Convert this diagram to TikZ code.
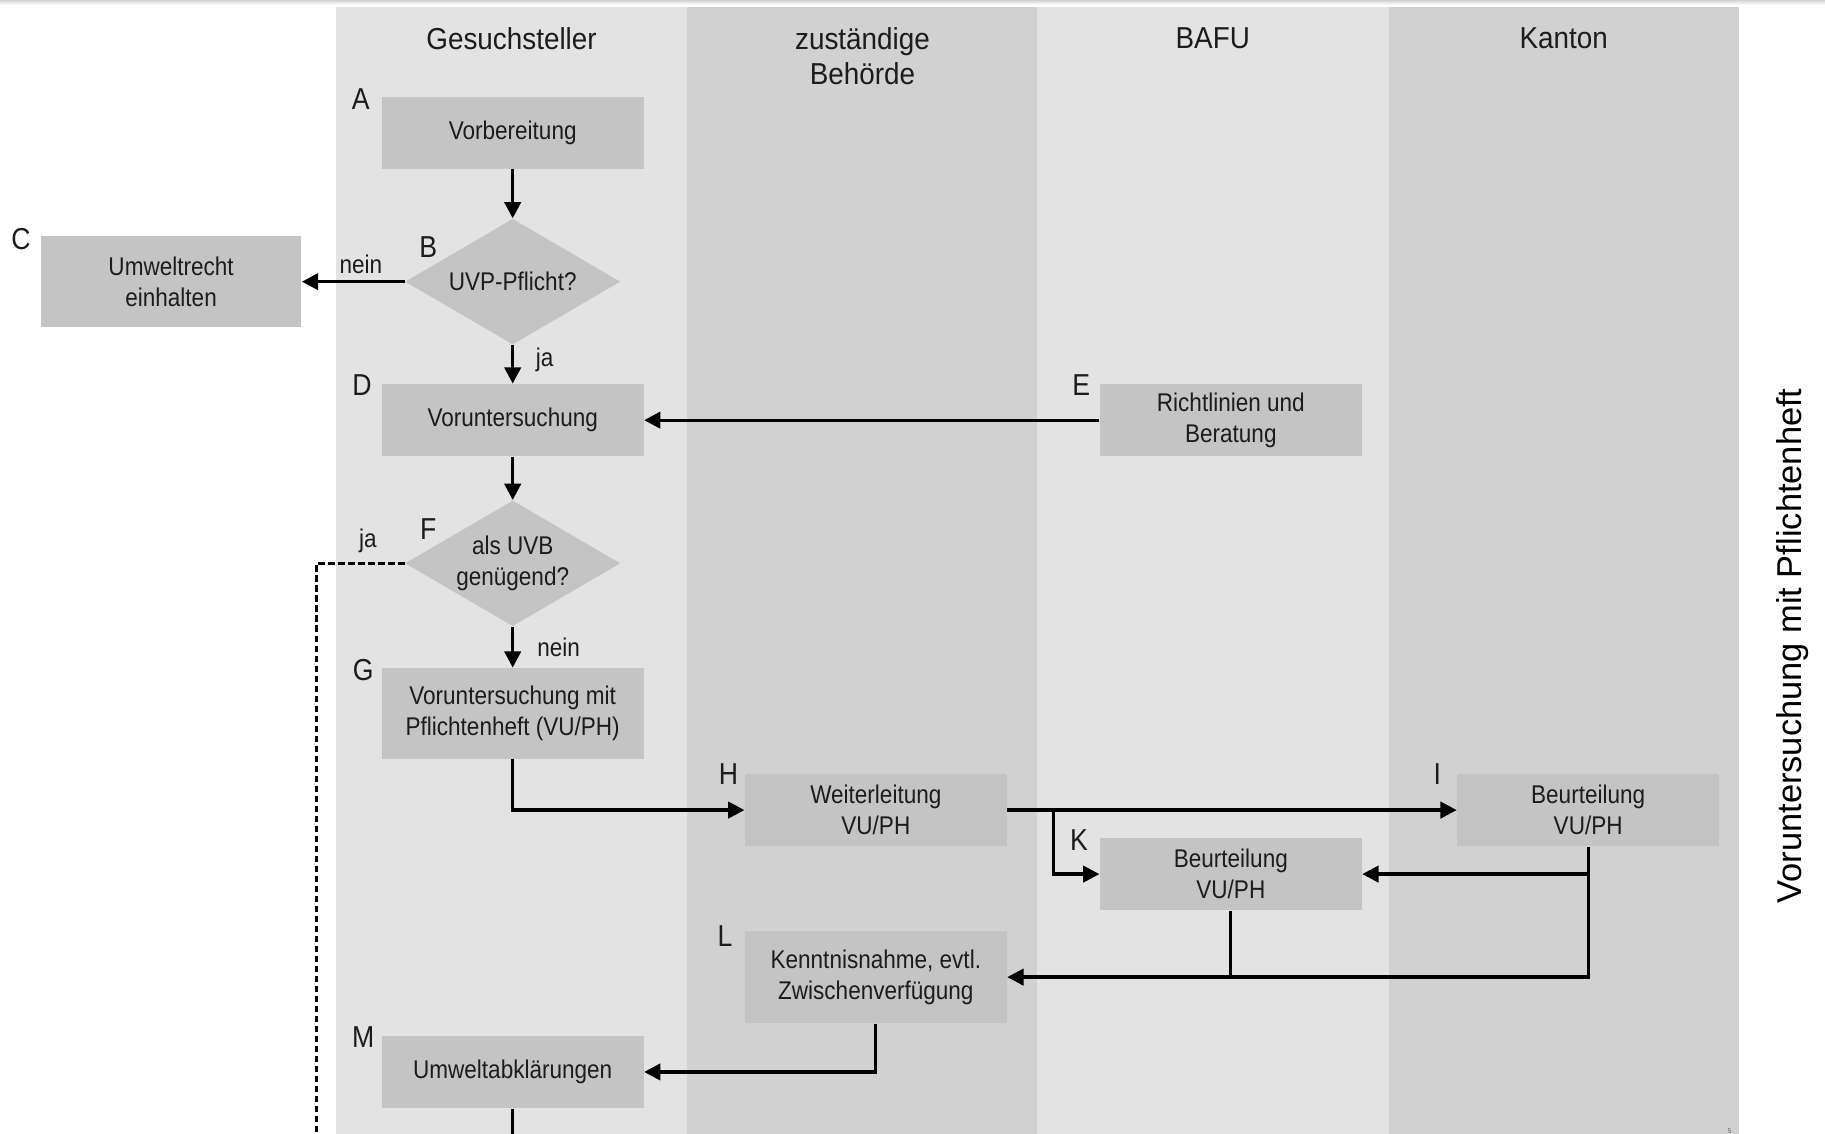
\documentclass[tikz,border=0pt]{standalone}
\usepackage{fontspec}
\setmainfont{Liberation Sans}
\newfontfamily\narrowfont[FakeStretch=0.88]{Liberation Sans}
\newfontfamily\titlefont[FakeStretch=0.92]{Liberation Sans}
\usetikzlibrary{shapes.geometric,arrows.meta}
\definecolor{lanelight}{HTML}{E3E3E3}
\definecolor{lanedark}{HTML}{D1D1D1}
\definecolor{boxgray}{HTML}{C4C4C4}
\definecolor{inkgray}{HTML}{1C1C1C}
\begin{document}
\begin{tikzpicture}[x=0.5pt,y=-0.5pt,
  stepbox/.style={rectangle, fill=boxgray, minimum width=112.5pt, minimum height=31pt,
    inner sep=0pt, align=center, text=inkgray, font=\narrowfont\fontsize{11}{13.5}\selectfont},
  tallbox/.style={stepbox, minimum height=39pt},
  decision/.style={diamond, fill=boxgray, minimum width=92.5pt, minimum height=54pt, inner sep=0pt},
  dectext/.style={align=center, text=inkgray, font=\narrowfont\fontsize{11}{13.5}\selectfont},
  letter/.style={text=inkgray, inner sep=0pt, font=\narrowfont\fontsize{13}{15}\selectfont},
  lanetitle/.style={text=inkgray, inner sep=0pt, align=center, font=\titlefont\fontsize{13}{15}\selectfont},
  edgelabel/.style={text=inkgray, inner sep=0pt, font=\narrowfont\fontsize{11}{13}\selectfont},
  flow/.style={line width=1.4pt, -{Triangle[length=7pt,width=7pt]}},
  plainflow/.style={line width=1.4pt},
  dashline/.style={line width=1.25pt, dash pattern=on 2.8pt off 1.5pt}
]
\useasboundingbox (0,0) rectangle (1568,974.3);
% top page edge
\fill[top color=gray!35, bottom color=white] (0,0) rectangle (1568,4);
% lanes
\fill[lanelight] (289,5.7) rectangle (590,976);
\fill[lanedark]  (590,5.7) rectangle (891,976);
\fill[lanelight] (891,5.7) rectangle (1193,976);
\fill[lanedark]  (1193,5.7) rectangle (1494,976);
% lane titles
\node[lanetitle] (t1) at (439.5,33) {Gesuchsteller};
\node[lanetitle] (t2) at (741,48) {zuständige\\Behörde};
\node[lanetitle] (t3) at (1042,33) {BAFU};
\node[lanetitle] (t4) at (1343.5,33) {Kanton};
% boxes
\node[stepbox] (A) at (440.5,114) {Vorbereitung};
\node[decision, label={[dectext]center:UVP-Pflicht?}] (B) at (440.5,242) {};
\node[tallbox, minimum width=112pt] (C) at (147,242) {Umweltrecht\\einhalten};
\node[stepbox] (D) at (440.5,361) {Voruntersuchung};
\node[stepbox] (E) at (1057.5,361) {Richtlinien und\\Beratung};
\node[decision, label={[dectext]center:{als UVB\\genügend?}}] (F) at (440.5,484) {};
\node[tallbox] (G) at (440.5,613) {Voruntersuchung mit\\Pflichtenheft (VU/PH)};
\node[stepbox] (H) at (752.5,696) {Weiterleitung\\VU/PH};
\node[stepbox] (I) at (1364.5,696) {Beurteilung\\VU/PH};
\node[stepbox] (K) at (1057.5,751) {Beurteilung\\VU/PH};
\node[tallbox, minimum height=39.5pt] (L) at (752.5,839.5) {Kenntnisnahme, evtl.\\Zwischenverfügung};
\node[stepbox] (M) at (440.5,921) {Umweltabklärungen};
% letters
\node[letter] (lA) at (310,85) {A};
\node[letter] (lB) at (368,212) {B};
\node[letter] (lC) at (18,205) {C};
\node[letter] (lD) at (311,331) {D};
\node[letter] (lE) at (929,331) {E};
\node[letter] (lF) at (368,455) {F};
\node[letter] (lG) at (312,576) {G};
\node[letter] (lH) at (626,665) {H};
\node[letter] (lI) at (1235,665) {I};
\node[letter] (lK) at (927,722) {K};
\node[letter] (lL) at (623,804) {L};
\node[letter] (lM) at (312,891) {M};
% side title
\node[rotate=90, inner sep=0pt, text=black, font=\fontsize{14.8}{17}\selectfont] (side) at (1540,555) {Voruntersuchung mit Pflichtenheft};
% page number
\node[inner sep=0pt, anchor=north, text=gray!80!black, font=\fontsize{3}{3}\selectfont] (pg) at (1486,969.5) {5};
% coordinates
\coordinate (hj) at (905,696);
\coordinate (dashend) at (272,990);
\coordinate (mend) at (440.5,990);
% connectors
\draw[flow] (A.south) -- (B.north);
\draw[flow] (B.west) -- (C.east);
\node[edgelabel] (nein1) at (310,227) {nein};
\draw[flow] (B.south) -- (D.north);
\node[edgelabel] (ja1) at (468,309) {ja};
\draw[flow] (E.west) -- (D.east);
\draw[flow] (D.south) -- (F.north);
\draw[flow] (F.south) -- (G.north);
\node[edgelabel] (nein2) at (480,556) {nein};
\draw[dashline] (F.west) -| (dashend);
\node[edgelabel] (ja2) at (316,465) {ja};
\draw[flow] (G.south) |- (H.west);
\draw[flow] (H.east) -- (I.west);
\draw[flow] (hj) |- (K.west);
\draw[flow] (I.south) |- (L.east);
\draw[flow] (I.south |- K.east) -- (K.east);
\draw[plainflow] (K.south) -- (K.south |- L.east);
\draw[flow] (L.south) |- (M.east);
\draw[plainflow] (M.south) -- (mend);
\end{tikzpicture}
\end{document}
